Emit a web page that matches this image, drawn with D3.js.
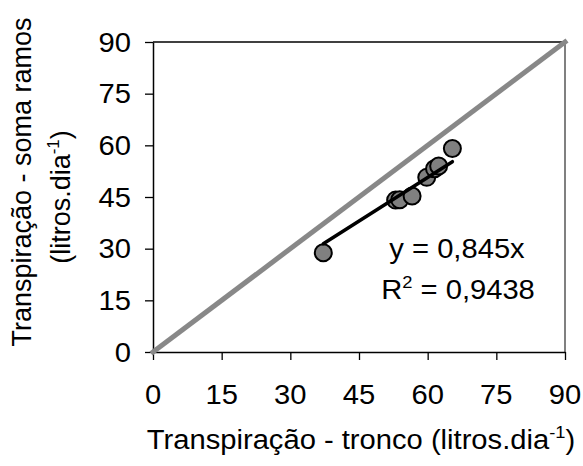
<!DOCTYPE html>
<html>
<head>
<meta charset="utf-8">
<script src="https://cdn.jsdelivr.net/npm/d3@7"></script>
<style>
  html, body { margin: 0; padding: 0; background: #fff; }
  svg { display: block; font-family: "Liberation Sans", Arial, sans-serif; }
</style>
</head>
<body>
<svg id="chart" width="583" height="466"></svg>
<script>
// Trunk vs. summed-branch transpiration (litres per day)
const tronco = [37.2, 53.0, 53.9, 56.6, 59.8, 61.5, 62.4, 65.4];
const ramos  = [28.8, 44.1, 44.2, 45.3, 50.7, 53.2, 54.0, 59.1];
const ticks = [0, 15, 30, 45, 60, 75, 90];
const slope = 0.845;
const r2Label = "0,9438";
const slopeLabel = "0,845";

const svg = d3.select("#chart");
const plotL = 153, plotR = 565, plotT = 42, plotB = 352;
const x = d3.scaleLinear().domain([0, 90]).range([plotL, plotR]);
const y = d3.scaleLinear().domain([0, 90]).range([plotB, plotT]);
const fs = 27, sx = 1.08;

// plot frame: top and right edges
svg.append("line").attr("x1", plotL).attr("x2", plotR).attr("y1", plotT).attr("y2", plotT)
  .attr("stroke", "#000").attr("stroke-width", 1.3);
svg.append("line").attr("x1", plotR).attr("x2", plotR).attr("y1", plotT).attr("y2", plotB)
  .attr("stroke", "#808080").attr("stroke-width", 2);

// axes
const xAxis = svg.append("g").attr("transform", `translate(0,${plotB})`)
  .call(d3.axisBottom(x).tickValues(ticks).tickSize(8).tickSizeOuter(0).tickFormat(""));
const yAxis = svg.append("g").attr("transform", `translate(${plotL},0)`)
  .call(d3.axisLeft(y).tickValues(ticks).tickSize(8).tickSizeOuter(0).tickFormat(""));
[xAxis, yAxis].forEach(g => {
  g.select(".domain").attr("stroke", "#000").attr("stroke-width", 1.5);
  g.selectAll(".tick line").attr("stroke", "#000").attr("stroke-width", 1.3);
});

// tick labels
svg.append("g").selectAll("text").data(ticks).join("text")
  .attr("transform", d => `translate(${x(d)},404) scale(${sx},1)`)
  .attr("text-anchor", "middle").attr("font-size", fs).attr("fill", "#000")
  .text(d => d);
svg.append("g").selectAll("text").data(ticks).join("text")
  .attr("transform", d => `translate(131,${y(d) + 9.5}) scale(${sx},1)`)
  .attr("text-anchor", "end").attr("font-size", fs).attr("fill", "#000")
  .text(d => d);

// 1:1 reference line
svg.append("line")
  .attr("x1", x(0)).attr("y1", y(0)).attr("x2", x(90)).attr("y2", y(90))
  .attr("stroke", "#888").attr("stroke-width", 5).attr("stroke-linecap", "square");

// points
svg.append("g").selectAll("circle").data(tronco).join("circle")
  .attr("cx", d => x(d)).attr("cy", (d, i) => y(ramos[i])).attr("r", 8.5)
  .attr("fill", "#808080").attr("stroke", "#000").attr("stroke-width", 2);

// linear trend through the origin, spanning the observed range
const [xmin, xmax] = d3.extent(tronco);
svg.append("line")
  .attr("x1", x(xmin)).attr("y1", y(slope * xmin))
  .attr("x2", x(xmax)).attr("y2", y(slope * xmax))
  .attr("stroke", "#000").attr("stroke-width", 3.5).attr("stroke-linecap", "round");

// equation
svg.append("text").attr("transform", `translate(457,258) scale(${sx},1)`)
  .attr("text-anchor", "middle").attr("font-size", fs)
  .text(`y = ${slopeLabel}x`);
const r2 = svg.append("text").attr("transform", `translate(458,299) scale(${sx},1)`)
  .attr("text-anchor", "middle").attr("font-size", fs);
r2.append("tspan").text("R");
r2.append("tspan").attr("font-size", 17).attr("dy", -11).text("2");
r2.append("tspan").attr("dy", 11).text(` = ${r2Label}`);

// x-axis title
const xt = svg.append("text").attr("transform", `translate(361,449) scale(${sx},1)`)
  .attr("text-anchor", "middle").attr("font-size", fs);
xt.append("tspan").text("Transpiração - tronco (litros.dia");
xt.append("tspan").attr("font-size", 17).attr("dy", -11).text("-1");
xt.append("tspan").attr("dy", 11).text(")");

// y-axis title, two lines
svg.append("text").attr("transform", "translate(31,182) rotate(-90)")
  .attr("text-anchor", "middle").attr("font-size", fs)
  .text("Transpiração - soma ramos");
const yt = svg.append("text").attr("transform", "translate(70,197) rotate(-90)")
  .attr("text-anchor", "middle").attr("font-size", fs);
yt.append("tspan").text("(litros.dia");
yt.append("tspan").attr("font-size", 17).attr("dy", -11).text("-1");
yt.append("tspan").attr("dy", 11).text(")");
</script>
</body>
</html>
